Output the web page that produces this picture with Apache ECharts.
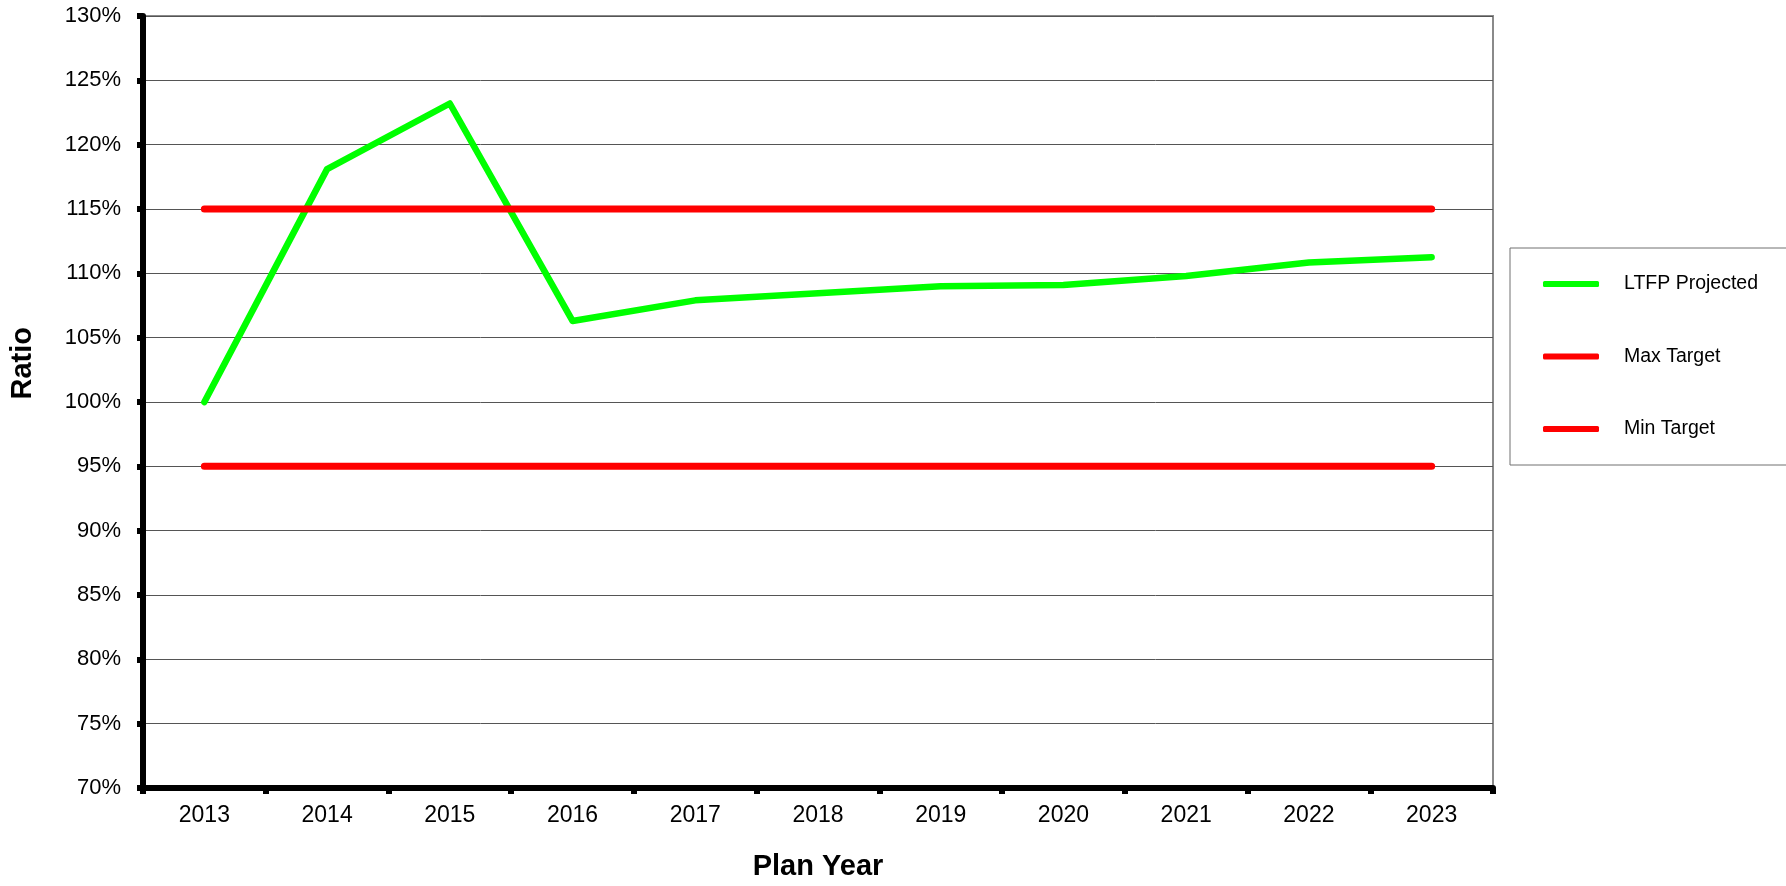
<!DOCTYPE html>
<html>
<head>
<meta charset="utf-8">
<title>LTFP Projected Ratio</title>
<script src="https://cdn.jsdelivr.net/npm/echarts@6/dist/echarts.min.js"></script>
<style>
  html, body { margin: 0; padding: 0; background: #ffffff; }
  #chart { width: 1786px; height: 886px; }
</style>
</head>
<body>
<div id="chart"></div>
<script>
// Plan years along the category axis
const years = ['2013', '2014', '2015', '2016', '2017', '2018', '2019', '2020', '2021', '2022', '2023'];

// Ratio values in percent
const ltfpProjected = [100, 118.1, 123.2, 106.3, 107.9, 108.45, 109.0, 109.1, 109.8, 110.85, 111.25];
const maxTarget = [115, 115, 115, 115, 115, 115, 115, 115, 115, 115, 115];
const minTarget = [95, 95, 95, 95, 95, 95, 95, 95, 95, 95, 95];

// Value axis range and step (percent)
const yMin = 70;
const yMax = 130;
const yStep = 5;

const FONT = '"Liberation Sans", Arial, Helvetica, sans-serif';

const chart = echarts.init(document.getElementById('chart'), null, { renderer: 'canvas' });

function lineSeries(name, data, color, width, z) {
  return {
    name: name,
    type: 'line',
    data: data,
    symbol: 'none',
    z: z,
    lineStyle: { color: color, width: width, cap: 'round', join: 'round' },
    itemStyle: { color: color },
    emphasis: { disabled: true },
    animation: false
  };
}

chart.setOption({
  animation: false,
  backgroundColor: '#ffffff',
  grid: {
    left: 143,
    right: 293,
    top: 16,
    bottom: 96,
    show: true,
    borderColor: '#8a8a8a',
    borderWidth: 2,
    backgroundColor: 'transparent'
  },
  legend: {
    orient: 'vertical',
    left: 1510,
    top: 248,
    padding: [26, 60, 26, 33],
    itemGap: 52.5,
    itemWidth: 56,
    itemHeight: 6,
    icon: 'roundRect',
    borderColor: '#707070',
    borderWidth: 1,
    backgroundColor: '#ffffff',
    selectedMode: false,
    textStyle: {
      fontFamily: FONT,
      fontSize: 19.5,
      lineHeight: 20,
      color: '#000000',
      padding: [0, 0, 0, 20]
    },
    data: ['LTFP Projected', 'Max Target', 'Min Target']
  },
  xAxis: {
    type: 'category',
    data: years,
    boundaryGap: true,
    name: 'Plan Year',
    nameLocation: 'middle',
    nameGap: 64,
    nameTextStyle: {
      fontFamily: FONT,
      fontSize: 29,
      fontWeight: 'bold',
      color: '#000000'
    },
    axisLine: { show: true, onZero: false, lineStyle: { color: '#000000', width: 6 } },
    axisTick: { show: true, alignWithLabel: false, interval: 0, length: 6, lineStyle: { color: '#000000', width: 6 } },
    axisLabel: {
      fontFamily: FONT,
      fontSize: 23,
      color: '#000000',
      margin: 16,
      interval: 0
    },
    splitLine: { show: false }
  },
  yAxis: {
    type: 'value',
    min: yMin,
    max: yMax,
    interval: yStep,
    axisLine: { show: true, lineStyle: { color: '#000000', width: 6 } },
    axisTick: { show: true, length: 6, lineStyle: { color: '#000000', width: 6 } },
    axisLabel: {
      fontFamily: FONT,
      fontSize: 22,
      color: '#000000',
      margin: 22,
      formatter: '{value}%'
    },
    splitLine: { show: true, lineStyle: { color: '#555555', width: 1 } }
  },
  graphic: [
    {
      type: 'text',
      left: 8,
      top: 327,
      rotation: Math.PI / 2,
      style: {
        text: 'Ratio',
        font: 'bold 29px ' + FONT,
        fill: '#000000'
      }
    }
  ],
  series: [
    lineSeries('LTFP Projected', ltfpProjected, '#00ff00', 6.5, 2),
    lineSeries('Max Target', maxTarget, '#ff0000', 7, 3),
    lineSeries('Min Target', minTarget, '#ff0000', 7, 3)
  ]
});
</script>
</body>
</html>
